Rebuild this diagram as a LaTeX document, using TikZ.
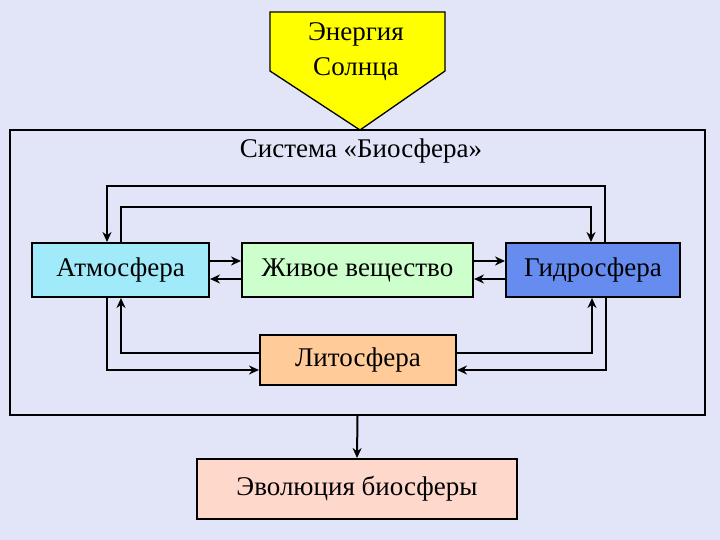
\documentclass[tikz,border=0pt]{standalone}
\usepackage{fontspec}
\setmainfont{Liberation Serif}
\usetikzlibrary{arrows.meta}
\definecolor{bgc}{RGB}{226,228,248}
\definecolor{atmc}{RGB}{160,234,250}
\definecolor{livc}{RGB}{204,255,204}
\definecolor{hydc}{RGB}{102,140,240}
\definecolor{litc}{RGB}{255,204,153}
\definecolor{evoc}{RGB}{255,216,204}
\definecolor{sunc}{RGB}{255,255,0}
\tikzset{
  box/.style={draw=black, line width=2pt, inner sep=0pt, text height=18pt, text depth=5pt, font=\fontsize{27}{30}\selectfont},
  lbl/.style={inner sep=0pt, font=\fontsize{27}{30}\selectfont},
  arr/.style={line width=2pt, -{Stealth[length=10pt,width=9pt]}},
}
\begin{document}
\begin{tikzpicture}[x=1pt,y=-1pt]
\fill[bgc] (0,0) rectangle (720,540);
\useasboundingbox (0,0) rectangle (720,540);
% sun
\draw[line width=1.3pt, fill=sunc] (270,12) -- (445,12) -- (445,71) -- (360,130) -- (270,71) -- cycle;
\node[lbl, align=center] (sun) at (356,52) {Энергия\\[5pt]Солнца};
% system frame
\node[box, minimum width=695, minimum height=285] (sys) at (357.5,272.5) {};
\node[lbl] (ttl) at (361,151) {Система «Биосфера»};
% boxes
\node[box, fill=atmc, minimum width=177, minimum height=54] (atm) at (120.5,270) {Атмосфера};
\node[box, fill=livc, minimum width=231, minimum height=54] (liv) at (357.5,270) {Живое вещество};
\node[box, fill=hydc, minimum width=174, minimum height=54] (hyd) at (593,270) {Гидросфера};
\node[box, fill=litc, minimum width=196, minimum height=50] (lit) at (358,360) {Литосфера};
\node[box, fill=evoc, minimum width=320, minimum height=60] (evo) at (357,489) {Эволюция биосферы};
% waypoints
\coordinate (c1) at (121,207);
\coordinate (c2) at (591,207);
\coordinate (c3) at (605,186);
\coordinate (c4) at (107,186);
\coordinate (c5) at (121,353);
\coordinate (c6) at (107,370);
\coordinate (c7) at (592,353);
\coordinate (c8) at (606,370);
\coordinate (ya) at (0,261);
\coordinate (yb) at (0,279);
% top loops
\draw[arr] (atm.north -| c1) -- (c1) -- (c2) -- (hyd.north -| c2);
\draw[arr] (hyd.north -| c3) -- (c3) -- (c4) -- (atm.north -| c4);
% horizontal pairs
\draw[arr] (atm.east |- ya) -- (liv.west |- ya);
\draw[arr] (liv.west |- yb) -- (atm.east |- yb);
\draw[arr] (liv.east |- ya) -- (hyd.west |- ya);
\draw[arr] (hyd.west |- yb) -- (liv.east |- yb);
% bottom loops
\draw[arr] (lit.west |- c5) -- (c5) -- (atm.south -| c5);
\draw[arr] (atm.south -| c6) -- (c6) -- (lit.west |- c6);
\draw[arr] (lit.east |- c7) -- (c7) -- (hyd.south -| c7);
\draw[arr] (hyd.south -| c8) -- (c8) -- (lit.east |- c8);
% to evolution
\draw[arr] (sys.south) -- (evo.north);
\end{tikzpicture}
\end{document}
